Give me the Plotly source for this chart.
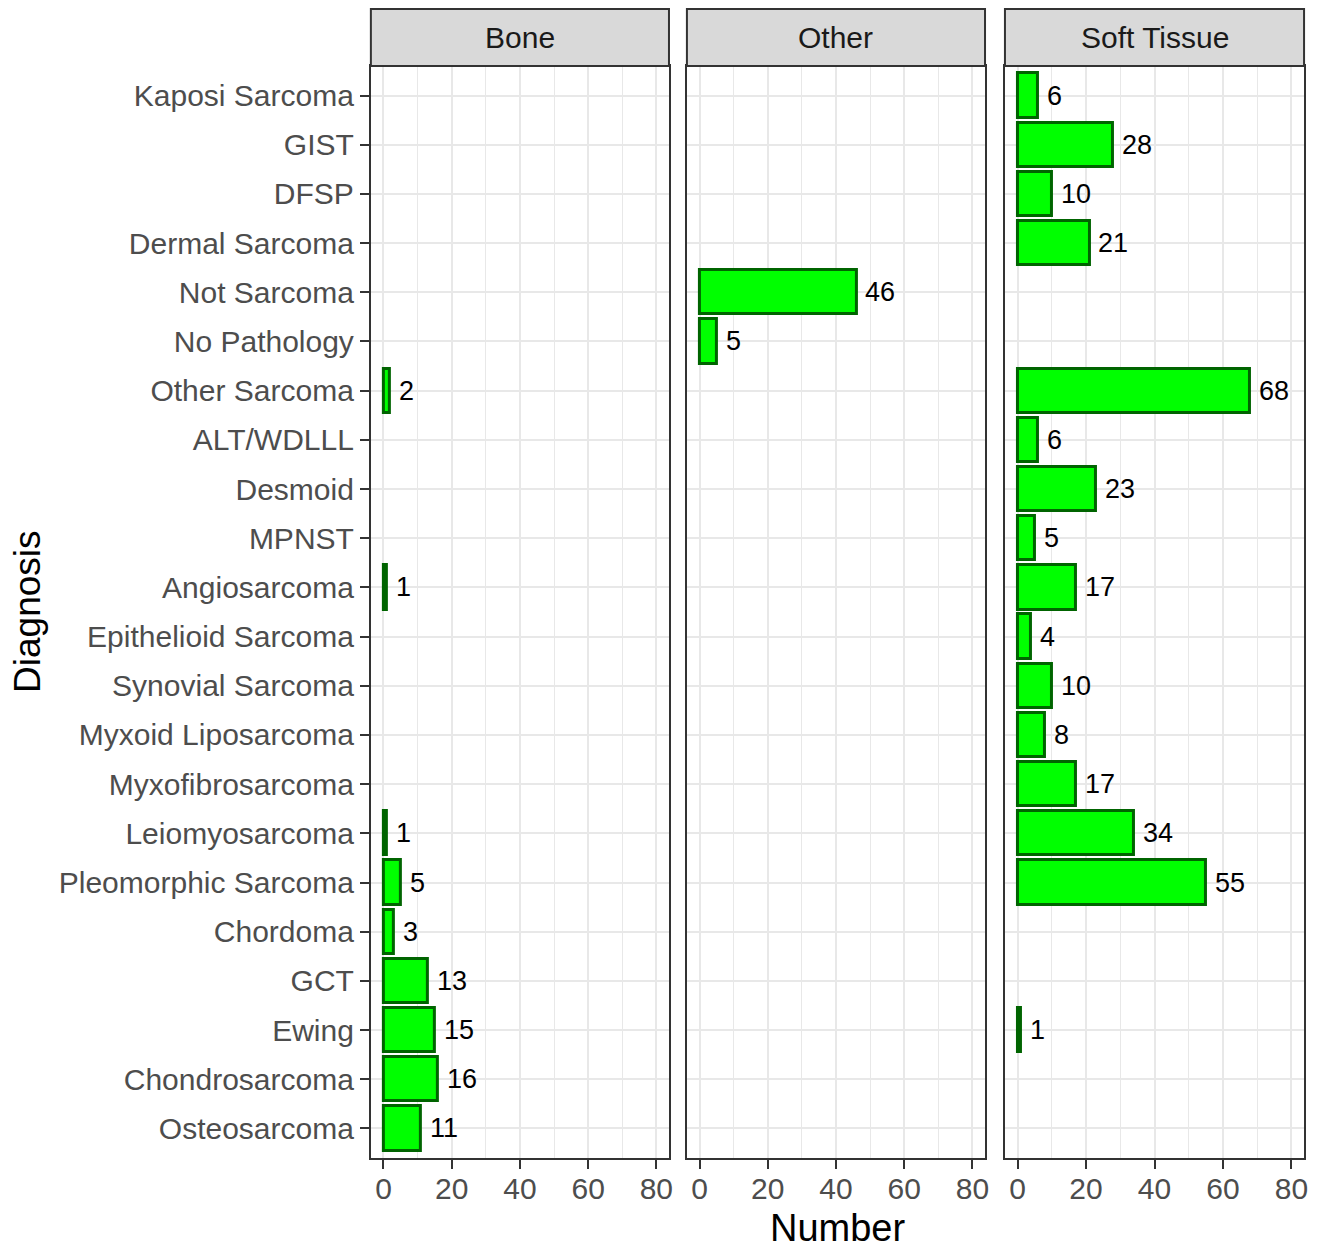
import plotly.graph_objects as go

# Diagnoses listed from top to bottom of the chart
diagnoses = [
    "Kaposi Sarcoma", "GIST", "DFSP", "Dermal Sarcoma", "Not Sarcoma",
    "No Pathology", "Other Sarcoma", "ALT/WDLLL", "Desmoid", "MPNST",
    "Angiosarcoma", "Epithelioid Sarcoma", "Synovial Sarcoma",
    "Myxoid Liposarcoma", "Myxofibrosarcoma", "Leiomyosarcoma",
    "Pleomorphic Sarcoma", "Chordoma", "GCT", "Ewing", "Chondrosarcoma",
    "Osteosarcoma",
]

facets = ["Bone", "Other", "Soft Tissue"]

bone_diagnoses = ["Other Sarcoma", "Angiosarcoma", "Leiomyosarcoma",
                  "Pleomorphic Sarcoma", "Chordoma", "GCT", "Ewing",
                  "Chondrosarcoma", "Osteosarcoma"]
bone_counts = [2, 1, 1, 5, 3, 13, 15, 16, 11]

other_diagnoses = ["Not Sarcoma", "No Pathology"]
other_counts = [46, 5]

soft_diagnoses = ["Kaposi Sarcoma", "GIST", "DFSP", "Dermal Sarcoma",
                  "Other Sarcoma", "ALT/WDLLL", "Desmoid", "MPNST",
                  "Angiosarcoma", "Epithelioid Sarcoma", "Synovial Sarcoma",
                  "Myxoid Liposarcoma", "Myxofibrosarcoma", "Leiomyosarcoma",
                  "Pleomorphic Sarcoma", "Ewing"]
soft_counts = [6, 28, 10, 21, 68, 6, 23, 5, 17, 4, 10, 8, 17, 34, 55, 1]

x_ticks = [0, 20, 40, 60, 80]

W, H = 1325, 1248
FONT = "Liberation Sans, Arial, sans-serif"
panel_px = [(372, 671), (689, 988), (1008, 1308)]
panel_top, panel_bottom = 66, 1158
strip_top = 9
GRID = "#E8E8E8"


def px_x(v):
    return v / W


def px_y(v):
    return 1 - v / H


fig = go.Figure()
facet_data = [(bone_diagnoses, bone_counts),
              (other_diagnoses, other_counts),
              (soft_diagnoses, soft_counts)]

annotations = []
shapes = []
order_bottom_up = diagnoses[::-1]

for i, (name, (cats, vals)) in enumerate(zip(facets, facet_data)):
    suffix = "" if i == 0 else str(i + 1)
    fig.add_trace(go.Bar(
        x=vals, y=cats, orientation="h", width=0.9,
        marker=dict(color="#00FF00", line=dict(color="#006400", width=3)),
        xaxis="x" + suffix, yaxis="y" + suffix, showlegend=False,
        hoverinfo="x+y",
    ))
    for c, v in zip(cats, vals):
        annotations.append(dict(
            x=v, y=c, xref="x" + suffix, yref="y" + suffix, text=str(v),
            showarrow=False, xanchor="left", yanchor="middle", xshift=7,
            font=dict(family=FONT, size=27, color="#000000"),
        ))

    x0, x1 = panel_px[i]
    dom_x = [px_x(x0), px_x(x1)]
    dom_y = [px_y(panel_bottom), px_y(panel_top)]
    fig.update_layout(**{
        "xaxis" + suffix: dict(
            domain=dom_x, anchor="y" + suffix, range=[-3.7, 83.7],
            tickvals=x_ticks, ticks="outside", ticklen=9, tickwidth=2,
            tickcolor="#333333", showline=True, linecolor="#333333",
            linewidth=2, mirror=True, showgrid=True, gridcolor=GRID,
            gridwidth=2, zeroline=False,
            minor=dict(dtick=10, tick0=0, showgrid=True, gridcolor=GRID,
                       gridwidth=1, ticks=""),
            tickfont=dict(family=FONT, size=30, color="#4D4D4D"),
            ticklabelstandoff=-6,
        ),
        "yaxis" + suffix: dict(
            domain=dom_y, anchor="x" + suffix, type="category",
            categoryorder="array", categoryarray=order_bottom_up,
            range=[-0.6, len(diagnoses) - 0.4],
            showticklabels=(i == 0), ticks="outside" if i == 0 else "",
            ticklen=9, tickwidth=2, tickcolor="#333333",
            showline=True, linecolor="#333333", linewidth=2, mirror=True,
            showgrid=True, gridcolor=GRID, gridwidth=2, zeroline=False,
            tickfont=dict(family=FONT, size=30, color="#4D4D4D"),
            ticklabelstandoff=0,
        ),
    })

    # facet strip
    shapes.append(dict(
        type="rect", xref="paper", yref="paper",
        x0=px_x(x0), x1=px_x(x1), y0=px_y(panel_top), y1=px_y(strip_top),
        fillcolor="#D9D9D9", line=dict(color="#333333", width=2), layer="above",
    ))
    annotations.append(dict(
        x=px_x((x0 + x1) / 2), y=px_y((strip_top + panel_top) / 2),
        xref="paper", yref="paper", text=name, showarrow=False,
        xanchor="center", yanchor="middle",
        font=dict(family=FONT, size=30, color="#1A1A1A"),
    ))

# axis titles
annotations.append(dict(
    x=px_x(840), y=px_y(1228), xref="paper", yref="paper", text="Number",
    showarrow=False, xanchor="center", yanchor="middle",
    font=dict(family=FONT, size=38, color="#000000"),
))
annotations.append(dict(
    x=px_x(27), y=px_y(612), xref="paper", yref="paper", text="Diagnosis",
    showarrow=False, xanchor="center", yanchor="middle", textangle=-90,
    font=dict(family=FONT, size=37, color="#000000"),
))

fig.update_layout(
    width=W, height=H, margin=dict(l=0, r=0, t=0, b=0),
    paper_bgcolor="white", plot_bgcolor="white",
    annotations=annotations, shapes=shapes, bargap=0,
    font=dict(family=FONT),
)

fig.write_html("out.html")
